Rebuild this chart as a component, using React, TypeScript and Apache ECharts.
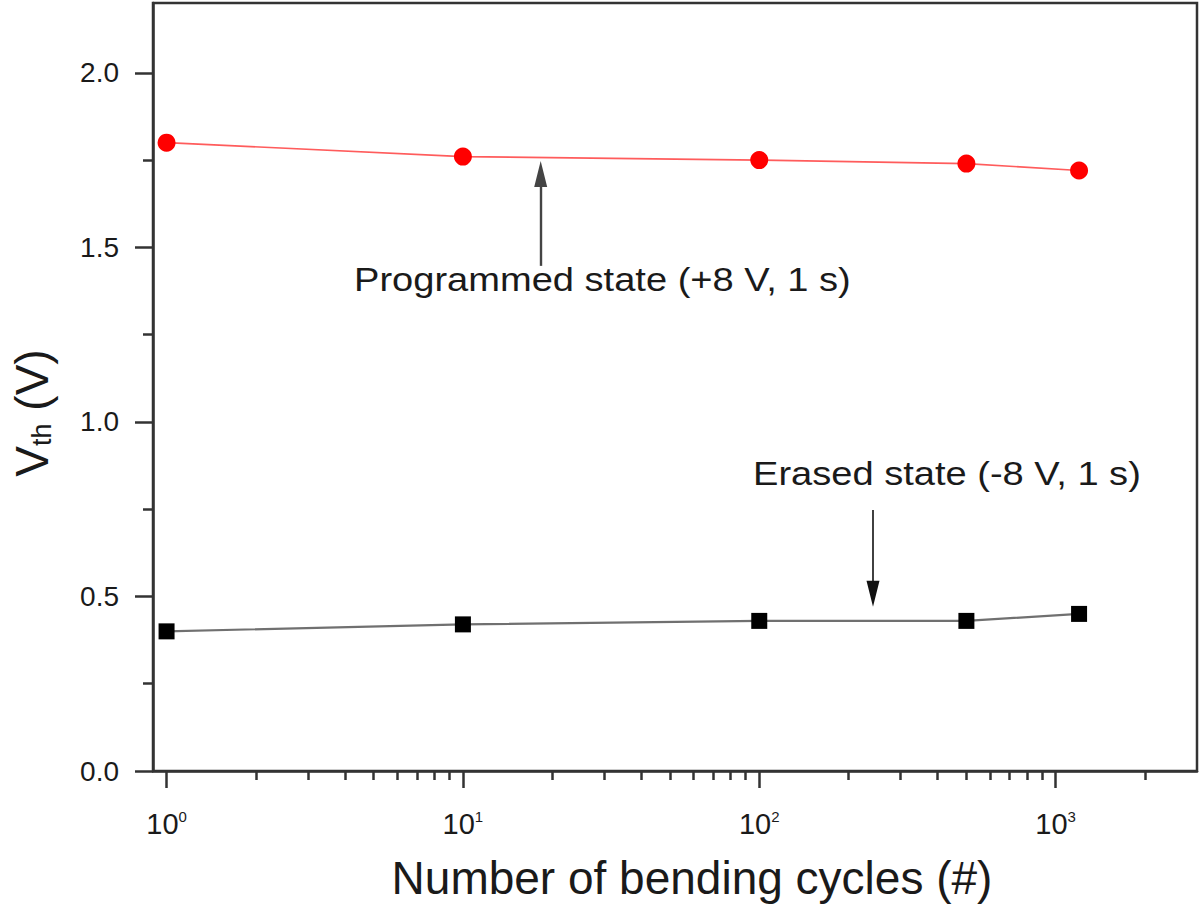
import React, { useEffect, useRef } from 'react';
import * as echarts from 'echarts';

const cycles = [1, 10, 100, 500, 1200];
const programmedVth = [1.8, 1.76, 1.75, 1.74, 1.72];
const erasedVth = [0.4, 0.42, 0.43, 0.43, 0.45];

const xMajorTicks = [1, 10, 100, 1000];
const xMinorTicks = [2, 3, 4, 5, 6, 7, 8, 9, 20, 30, 40, 50, 60, 70, 80, 90, 200, 300, 400, 500, 600, 700, 800, 900, 2000];
const yMajorTicks = [0, 0.5, 1.0, 1.5, 2.0];
const yMinorTicks = [0.25, 0.75, 1.25, 1.75];

const programmedText = 'Programmed state (+8 V, 1 s)';
const erasedText = 'Erased state (-8 V, 1 s)';
const programmedArrow = [[18.3, 1.447], [18.3, 1.71]];
const erasedArrow = [[242, 0.748], [242, 0.508]];

const FONT = 'Arial, "Liberation Sans", sans-serif';
const INK = '#1a1a1a';
const AXIS = '#333333';
const ARROW_HEAD = 'path://M-11,0 M11,0 M0,0 L5.5,22 L-5.5,22 Z';

export default function App() {
  const ref = useRef<HTMLDivElement>(null);

  useEffect(() => {
    if (!ref.current) return;
    const chart = echarts.init(ref.current, null, { renderer: 'svg' });

    const progData = cycles.map((c, i) => [c, programmedVth[i]]);
    const eraseData = cycles.map((c, i) => [c, erasedVth[i]]);

    const arrowLine = (pts: number[][], color: string, width: number) => ({
      silent: true,
      symbol: ['none', ARROW_HEAD],
      symbolSize: 26,
      label: { show: false },
      lineStyle: { color, width, type: 'solid' },
      itemStyle: { color: '#111111' },
      emphasis: { disabled: true },
      data: [[{ coord: pts[0] }, { coord: pts[1] }]],
    });

    chart.setOption({
      animation: false,
      backgroundColor: '#ffffff',
      grid: {
        left: 153,
        right: 3,
        top: 3,
        bottom: 143,
        containLabel: false,
        outerBoundsMode: 'none',
        show: true,
        borderColor: AXIS,
        borderWidth: 2.5,
        backgroundColor: 'transparent',
      },
      xAxis: [
        {
          type: 'log',
          logBase: 10,
          min: 0.9,
          max: 3000,
          position: 'bottom',
          name: 'Number of bending cycles (#)',
          nameLocation: 'middle',
          nameGap: 84,
          nameTextStyle: { fontSize: 46, color: INK, fontFamily: FONT, padding: [0, 0, 0, 34] },
          axisLine: { show: true, lineStyle: { color: AXIS, width: 2.5 } },
          axisTick: { show: true, customValues: xMajorTicks, length: 17, lineStyle: { color: AXIS, width: 2.5 } },
          axisLabel: {
            show: true,
            customValues: xMajorTicks,
            margin: 38,
            fontSize: 29,
            color: INK,
            fontFamily: FONT,
            formatter: (v: number) => '10{s|' + Math.round(Math.log10(v)) + '}',
            rich: {
              s: { fontSize: 15, color: INK, fontFamily: FONT, verticalAlign: 'top', lineHeight: 15 },
            },
          },
          splitLine: { show: false },
        },
        {
          type: 'log',
          logBase: 10,
          min: 0.9,
          max: 3000,
          position: 'bottom',
          axisLine: { show: false },
          axisTick: { show: true, customValues: xMinorTicks, length: 9, lineStyle: { color: AXIS, width: 2.5 } },
          axisLabel: { show: false },
          splitLine: { show: false },
        },
      ],
      yAxis: [
        {
          type: 'value',
          min: 0,
          max: 2.2,
          position: 'left',
          name: '{v|V}{sub|th}{v| (V)}',
          nameLocation: 'middle',
          nameRotate: 90,
          nameGap: 98,
          nameTextStyle: {
            color: INK,
            fontFamily: FONT,
            padding: [0, 52, 0, 0],
            rich: {
              v: { fontSize: 46, color: INK, fontFamily: FONT, lineHeight: 46 },
              sub: { fontSize: 27, color: INK, fontFamily: FONT, lineHeight: 27, verticalAlign: 'bottom' },
            },
          },
          axisLine: { show: true, lineStyle: { color: AXIS, width: 2.5 } },
          axisTick: { show: true, customValues: yMajorTicks, length: 18, lineStyle: { color: AXIS, width: 2.5 } },
          axisLabel: {
            show: true,
            customValues: yMajorTicks,
            margin: 34,
            fontSize: 28,
            color: INK,
            fontFamily: FONT,
            formatter: (v: number) => v.toFixed(1),
          },
          splitLine: { show: false },
        },
        {
          type: 'value',
          min: 0,
          max: 2.2,
          position: 'left',
          axisLine: { show: false },
          axisTick: { show: true, customValues: yMinorTicks, length: 10, lineStyle: { color: AXIS, width: 2.5 } },
          axisLabel: { show: false },
          splitLine: { show: false },
        },
      ],
      series: [
        {
          name: 'Programmed',
          type: 'line',
          xAxisIndex: 0,
          yAxisIndex: 0,
          data: progData,
          symbol: 'circle',
          symbolSize: 18,
          itemStyle: { color: '#ff0000' },
          lineStyle: { color: '#ff5c5c', width: 1.6 },
          markLine: arrowLine(programmedArrow, '#444444', 2.4),
          z: 3,
        },
        {
          name: 'Erased',
          type: 'line',
          xAxisIndex: 0,
          yAxisIndex: 0,
          data: eraseData,
          symbol: 'rect',
          symbolSize: 16,
          itemStyle: { color: '#000000' },
          lineStyle: { color: '#707070', width: 2.2 },
          markLine: arrowLine(erasedArrow, '#111111', 1.6),
          z: 3,
        },
      ],
      graphic: [
        {
          type: 'text',
          x: 354,
          y: 279,
          scaleX: 1.12,
          silent: true,
          style: {
            text: programmedText,
            fontSize: 34,
            fontFamily: FONT,
            fill: INK,
            textAlign: 'left',
            textVerticalAlign: 'middle',
          },
        },
        {
          type: 'text',
          x: 753,
          y: 473,
          scaleX: 1.12,
          silent: true,
          style: {
            text: erasedText,
            fontSize: 34,
            fontFamily: FONT,
            fill: INK,
            textAlign: 'left',
            textVerticalAlign: 'middle',
          },
        },
      ],
    });

    return () => chart.dispose();
  }, []);

  return (
    <div
      ref={ref}
      style={{ position: 'absolute', left: 0, top: 0, width: 1200, height: 914, background: '#fff' }}
    />
  );
}
